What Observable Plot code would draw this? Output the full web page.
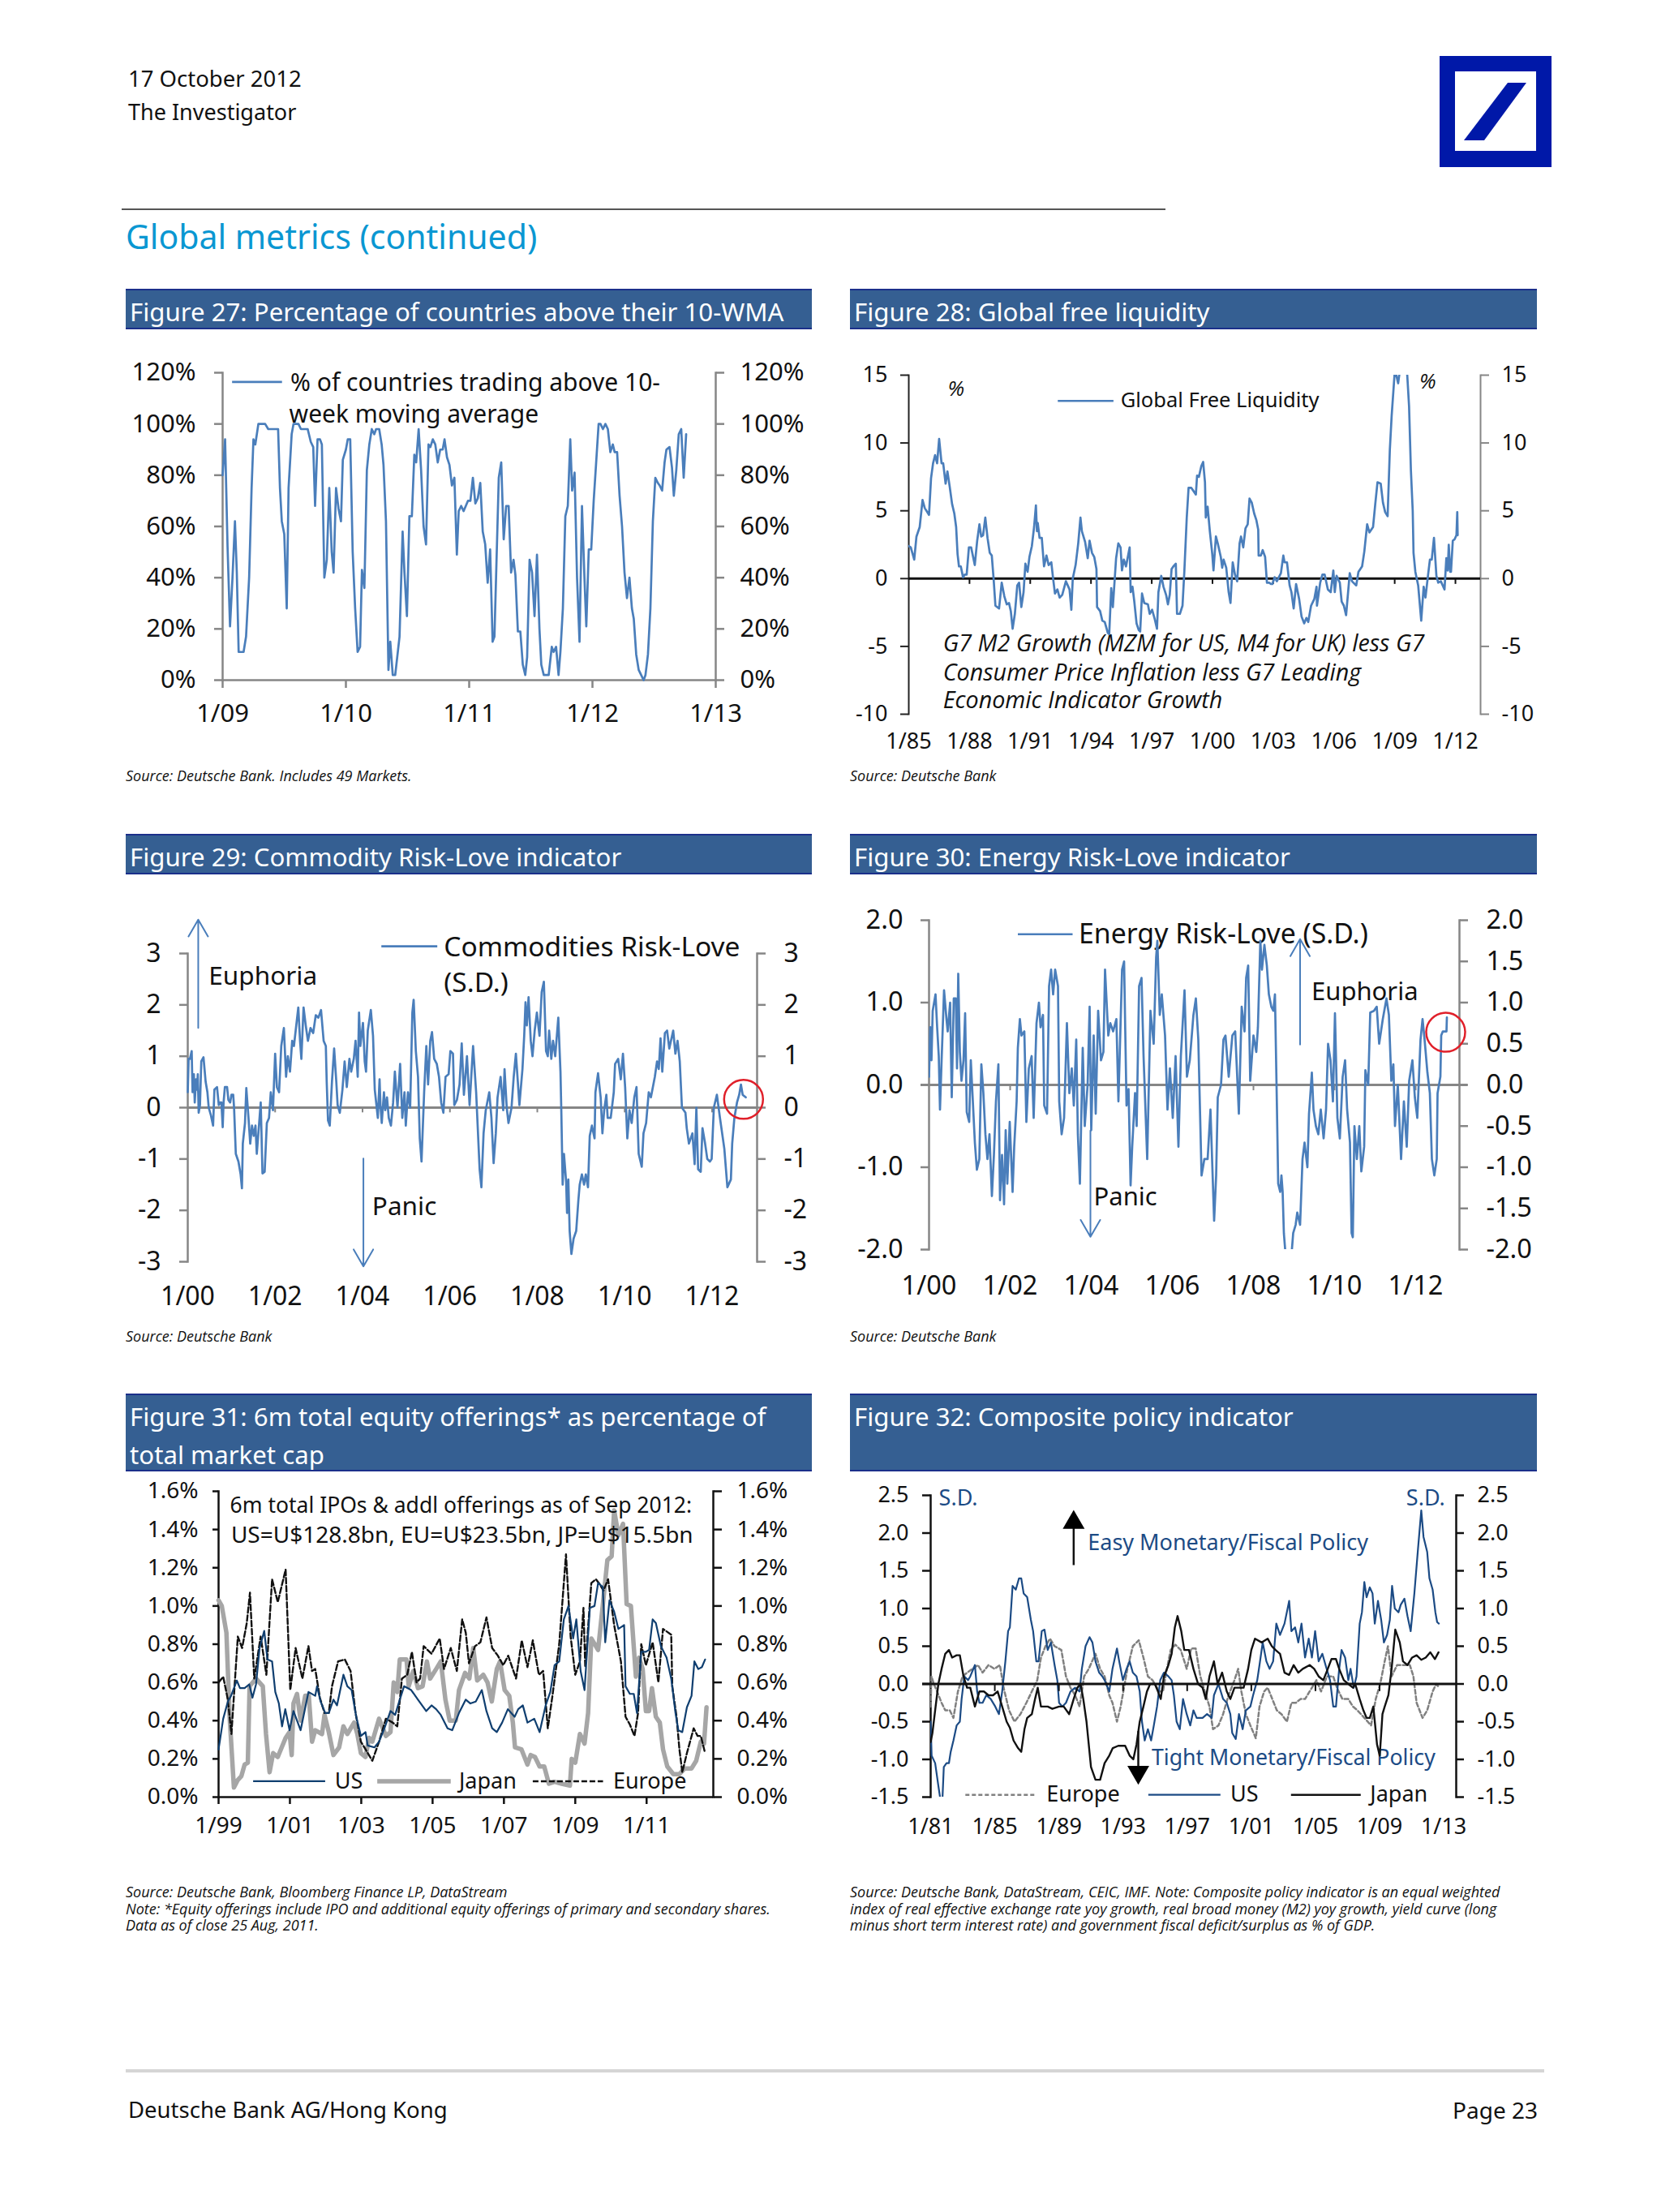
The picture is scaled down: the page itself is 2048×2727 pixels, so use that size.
<!DOCTYPE html>
<html><head><meta charset="utf-8">
<script src="https://cdn.jsdelivr.net/npm/d3@7"></script>
<script src="https://cdn.jsdelivr.net/npm/@observablehq/plot@0.6"></script>
<style>
html,body{margin:0;padding:0;background:#fff}
#page{position:relative;width:2048px;height:2727px;overflow:hidden;font-family:"Noto Sans",sans-serif;color:#111}
.t{position:absolute;white-space:nowrap}
.hd{position:absolute;box-sizing:border-box;background:#355f92;border-top:2px solid #1b2f8a;border-bottom:2px solid #1b2f8a;color:#fff;font-size:31.2px;line-height:47px;padding:3px 0 0 5px;white-space:pre}
.src{position:absolute;font-family:"Open Sans",sans-serif;font-style:italic;font-size:18px;line-height:20.5px;white-space:pre;color:#111}
svg{overflow:visible}
.pl{position:absolute}
</style></head><body><div id="page"></div>
<script>
// ---- Figure 27: offset in years from 1/09, percent
const fig27Base=2009;
const fig27Points=[[0,80],[.02,94],[.04,52],[.06,21],[.08,40],[.10,62],[.115,42],[.13,11],[.17,11],[.19,17],[.215,40],[.235,75],[.25,94],[.265,92],[.29,100],[.345,100],[.37,98],[.45,98],[.465,75],[.48,62],[.50,57],[.52,28],[.535,75],[.56,96],[.575,100],[.615,100],[.635,98],[.69,98],[.715,93],[.735,91],[.75,68],[.77,94],[.79,94],[.805,92],[.825,40],[.845,47],[.865,75],[.885,50],[.90,42],[.92,75],[.94,67],[.96,62],[.975,86],[1.0,90],[1.015,94],[1.035,94],[1.055,50],[1.075,28],[1.095,11],[1.115,13],[1.13,43],[1.15,36],[1.17,82],[1.19,92],[1.21,98],[1.23,96],[1.245,98],[1.27,98],[1.29,92],[1.305,84],[1.325,62],[1.345,4],[1.36,15],[1.38,2],[1.40,2],[1.435,17],[1.46,58],[1.475,42],[1.495,25],[1.515,64],[1.535,64],[1.555,88],[1.57,85],[1.59,98],[1.61,82],[1.63,60],[1.65,53],[1.67,92],[1.685,91],[1.705,94],[1.725,92],[1.745,85],[1.765,90],[1.785,90],[1.80,94],[1.82,87],[1.84,84],[1.86,76],[1.88,79],[1.90,49],[1.915,66],[1.935,68],[1.955,66],[1.99,70],[2.01,70],[2.03,79],[2.05,69],[2.07,71],[2.09,77],[2.11,58],[2.13,53],[2.15,38],[2.17,51],[2.19,15],[2.205,17],[2.24,79],[2.26,85],[2.28,55],[2.30,68],[2.32,68],[2.34,42],[2.36,47],[2.375,41],[2.395,19],[2.415,19],[2.435,6],[2.455,2],[2.47,9],[2.49,47],[2.51,42],[2.53,25],[2.55,49],[2.57,20],[2.585,6],[2.605,2],[2.645,2],[2.67,13],[2.685,11],[2.705,13],[2.725,2],[2.74,11],[2.76,28],[2.78,64],[2.80,68],[2.82,94],[2.835,74],[2.855,81],[2.875,40],[2.895,15],[2.915,68],[2.935,40],[2.95,21],[2.97,51],[2.99,51],[3.01,70],[3.03,85],[3.05,100],[3.065,100],[3.085,98],[3.105,100],[3.125,98],[3.145,89],[3.165,92],[3.18,89],[3.20,89],[3.22,72],[3.24,60],[3.26,42],[3.28,32],[3.30,40],[3.32,28],[3.335,24],[3.355,10],[3.375,4],[3.395,2],[3.415,0],[3.43,2],[3.45,10],[3.47,28],[3.49,62],[3.51,79],[3.53,77],[3.545,76],[3.565,74],[3.585,85],[3.60,90],[3.625,91],[3.645,83],[3.66,72],[3.68,82],[3.70,96],[3.72,98],[3.74,79],[3.76,96]];
// ---- Figure 28: offset in years from 1/85, percent
const fig28Base=1985;
const fig28Points=[[0,2.4],[.1,2.3],[.27,1.4],[.38,3.1],[.54,3.8],[.68,5.8],[.79,5.2],[1.0,4.7],[1.1,7.4],[1.2,8.5],[1.3,9.1],[1.4,8.5],[1.5,10.3],[1.62,8.5],[1.7,8.5],[1.82,7],[1.91,7.9],[2.02,6.8],[2.14,5.5],[2.25,4.8],[2.34,3.8],[2.41,1.8],[2.48,.9],[2.57,.9],[2.68,.1],[2.77,.3],[2.86,.3],[2.97,2.3],[3.08,2.3],[3.26,1.0],[3.38,2.8],[3.49,4.0],[3.58,3.1],[3.67,3.2],[3.78,4.5],[3.89,3.0],[4.0,1.9],[4.1,1.7],[4.19,0],[4.28,-2],[4.46,-2.2],[4.59,-.3],[4.72,-1.3],[4.84,-1.9],[4.95,-1.8],[5.04,-2.4],[5.13,-3.7],[5.24,-2.6],[5.36,-.5],[5.45,-.3],[5.56,-2.1],[5.67,-1],[5.76,1.1],[5.87,.5],[5.96,1.6],[6.08,2.4],[6.19,3.8],[6.28,5.4],[6.33,3.5],[6.37,4.1],[6.46,3],[6.57,3.0],[6.68,.9],[6.8,1.7],[6.91,1],[7.04,1.2],[7.13,0],[7.22,-1.1],[7.34,-.8],[7.45,-1.4],[7.58,-1.2],[7.76,-.2],[7.94,-.8],[8.03,-2.3],[8.1,0],[8.24,1],[8.37,2.6],[8.48,4.5],[8.55,3.5],[8.71,2.7],[8.84,1.5],[8.93,2.8],[9.05,1.9],[9.16,1.6],[9.27,.7],[9.3,-2.1],[9.45,-2.4],[9.56,-3.1],[9.68,-3.2],[9.83,-4.0],[9.9,-4.1],[10.0,-.7],[10.08,-2.1],[10.24,1.5],[10.35,2.6],[10.46,2.3],[10.53,.6],[10.62,1.4],[10.73,.9],[10.91,2.3],[10.96,-1.0],[11.05,-.6],[11.14,-1.7],[11.25,-3.3],[11.36,-3.8],[11.43,-3.9],[11.52,-1.1],[11.63,-1.8],[11.81,-1.9],[11.9,-2.6],[12.02,-2.3],[12.15,-3],[12.26,-3.7],[12.33,-1],[12.47,.2],[12.58,-.6],[12.71,-1.2],[12.8,-1.9],[12.89,-1.2],[12.98,.7],[13.07,.9],[13.19,1.1],[13.25,-2.6],[13.39,-2.6],[13.52,-2.0],[13.61,.5],[13.73,4.5],[13.82,6.7],[13.95,6.7],[14.18,6.2],[14.24,7.6],[14.33,7.5],[14.45,8.3],[14.54,8.6],[14.63,7.1],[14.67,4.5],[14.76,5.3],[14.87,3.5],[14.99,1.8],[15.05,.6],[15.17,3.1],[15.26,2.6],[15.41,1.6],[15.48,.8],[15.55,1.4],[15.68,.8],[15.8,-1],[15.89,-1.8],[16.0,1.2],[16.11,.3],[16.22,-.2],[16.34,2.6],[16.41,3.1],[16.52,2.3],[16.63,3.7],[16.74,4],[16.83,5.9],[16.94,5.6],[17.06,4.8],[17.17,4.3],[17.26,3.6],[17.28,1.7],[17.39,1.7],[17.48,2.1],[17.6,1.6],[17.69,-.3],[17.8,-.3],[17.89,-.4],[17.96,-.4],[18.07,.1],[18.18,-.2],[18.38,.4],[18.5,1.7],[18.56,1.2],[18.68,1.2],[18.81,-.5],[18.9,-1],[19.01,-2.2],[19.13,-.4],[19.28,-1.5],[19.4,-2.8],[19.53,-3.3],[19.64,-2.9],[19.73,-3.2],[19.87,-2],[20.03,-1.5],[20.14,-.6],[20.16,-2],[20.32,-.3],[20.43,.3],[20.54,.3],[20.7,-.8],[20.84,-1],[20.97,.6],[21.04,-1],[21.13,.2],[21.29,-.3],[21.38,-1.7],[21.49,-2],[21.6,-2.7],[21.78,.4],[21.89,-.2],[22.1,-.5],[22.21,.5],[22.39,.9],[22.5,2],[22.64,4],[22.75,3.4],[22.93,3.8],[23.04,5.5],[23.15,7.1],[23.31,7],[23.42,5.6],[23.53,4.9],[23.65,4.6],[23.76,9.5],[23.85,12],[23.99,15],[24.05,15.2],[24.17,14.4],[24.26,15.4],[24.53,16],[24.62,15],[24.71,12.7],[24.8,8],[24.89,5],[24.93,1.9],[25.02,.5],[25.16,-.5],[25.31,-3.1],[25.43,-.6],[25.52,-1.4],[25.65,.3],[25.74,1.4],[25.83,1.4],[25.94,3.0],[26.06,.2],[26.15,-.3],[26.28,-.2],[26.46,-.8],[26.55,1.5],[26.62,.6],[26.67,2.5],[26.74,.5],[26.78,.5],[26.87,2.8],[26.96,2.9],[27.05,3.2],[27.09,4.9],[27.11,3.2]];
// ---- Figure 29: offset in years from 1/00, S.D.
const fig29Base=2000;
const fig29Points=[[0,.3],[.02,.95],[.05,.95],[.09,1.1],[.11,.3],[.14,.65],[.16,.1],[.19,.55],[.21,.35],[.23,.65],[.25,-.1],[.28,.05],[.31,.9],[.36,.98],[.41,.5],[.45,.3],[.48,0],[.53,-.15],[.58,-.35],[.61,.35],[.67,.4],[.71,.05],[.74,.1],[.77,.1],[.8,-.38],[.82,.1],[.85,.4],[.9,.4],[.93,.15],[.97,.1],[1.0,.25],[1.04,.25],[1.06,0],[1.1,-.9],[1.16,-1.05],[1.21,-1.3],[1.24,-1.57],[1.26,-.7],[1.31,-.3],[1.34,.38],[1.39,-.2],[1.43,-.7],[1.47,-.35],[1.51,-.55],[1.55,-.35],[1.58,-.9],[1.63,-.35],[1.67,.1],[1.71,-1.28],[1.76,-1.25],[1.81,-.3],[1.86,-.2],[1.9,.3],[1.95,-.05],[2.0,1.05],[2.04,.4],[2.09,.3],[2.14,1.2],[2.2,1.55],[2.25,.6],[2.29,1.0],[2.34,.7],[2.39,1.3],[2.43,1.2],[2.47,1.5],[2.53,1.95],[2.57,1.3],[2.6,.95],[2.65,1.95],[2.7,1.6],[2.75,1.3],[2.81,1.55],[2.87,1.45],[2.93,1.8],[2.99,1.75],[3.05,1.9],[3.11,1.3],[3.16,1.2],[3.18,.5],[3.21,-.25],[3.25,-.35],[3.3,.5],[3.35,1.15],[3.4,.5],[3.43,.05],[3.48,-.1],[3.54,.35],[3.59,.9],[3.64,.4],[3.7,.95],[3.74,.7],[3.8,.95],[3.84,1.3],[3.89,.6],[3.92,1.85],[3.95,1.2],[4.01,1.65],[4.05,.9],[4.08,.7],[4.12,1.5],[4.19,1.9],[4.24,1.4],[4.28,.35],[4.35,-.2],[4.39,.55],[4.41,.05],[4.44,-.3],[4.49,.3],[4.52,-.05],[4.56,.2],[4.6,-.2],[4.65,-.35],[4.7,.1],[4.74,.7],[4.8,0],[4.86,.85],[4.91,-.2],[4.96,.3],[4.99,-.35],[5.04,.3],[5.09,0],[5.14,1.85],[5.17,2.1],[5.22,1.1],[5.27,.6],[5.31,-.6],[5.35,-1.05],[5.41,.3],[5.46,1.2],[5.5,.45],[5.55,1.3],[5.59,1.47],[5.64,.95],[5.7,.85],[5.75,.6],[5.8,.1],[5.85,-.1],[5.9,.6],[5.97,.65],[6.01,1.1],[6.07,1.05],[6.1,.05],[6.16,.15],[6.22,.45],[6.27,1.25],[6.32,.25],[6.39,1.0],[6.45,.05],[6.53,1.2],[6.6,.3],[6.68,-1.2],[6.72,-1.55],[6.77,-.5],[6.82,-.05],[6.9,.3],[6.95,-.2],[7.0,-1.08],[7.05,-.5],[7.09,.2],[7.16,.6],[7.22,-.05],[7.25,.75],[7.3,0],[7.34,-.3],[7.41,0],[7.46,.6],[7.51,1.05],[7.59,.05],[7.66,.75],[7.7,1.4],[7.73,2.05],[7.76,1.6],[7.8,2.15],[7.85,1.3],[7.89,1.0],[7.94,1.5],[7.99,1.85],[8.05,1.4],[8.1,2.25],[8.15,2.45],[8.2,1.1],[8.24,1.0],[8.27,1.5],[8.32,.95],[8.36,1.3],[8.41,1.0],[8.48,1.75],[8.53,.7],[8.55,-.1],[8.58,-1.5],[8.61,-.9],[8.66,-1.45],[8.68,-2.05],[8.71,-1.4],[8.74,-2.4],[8.78,-2.85],[8.83,-2.55],[8.89,-2.4],[8.94,-1.8],[8.97,-1.5],[9.02,-1.3],[9.07,-1.5],[9.11,-1.3],[9.16,-1.55],[9.2,-.55],[9.25,-.35],[9.31,-.6],[9.33,.3],[9.39,.67],[9.45,.2],[9.49,-.5],[9.53,-.05],[9.58,.25],[9.61,-.2],[9.68,-.2],[9.75,.3],[9.78,.85],[9.85,.95],[9.91,.55],[9.96,1.05],[10.01,.4],[10.06,-.6],[10.11,-.05],[10.16,-.3],[10.22,.2],[10.27,.4],[10.32,-.9],[10.39,-1.15],[10.43,-.5],[10.49,-.3],[10.55,.3],[10.6,.2],[10.69,.6],[10.74,.9],[10.78,.75],[10.82,1.35],[10.86,.7],[10.92,1.45],[10.97,1.5],[11.02,1.15],[11.11,1.5],[11.16,1.05],[11.21,1.3],[11.26,.9],[11.31,0],[11.39,-.1],[11.42,-.4],[11.47,-.7],[11.55,-.5],[11.6,-1.1],[11.64,0],[11.68,-1.2],[11.74,-1.25],[11.78,-.4],[11.84,-.7],[11.89,-1],[11.95,-1.05],[11.99,-1.0],[12.04,0],[12.11,.25],[12.18,-.2],[12.28,-.8],[12.35,-1.55],[12.43,-1.4],[12.46,-.7],[12.51,-.2],[12.57,.1],[12.62,.25],[12.66,.45],[12.7,.25],[12.77,.2]];
// ---- Figure 30: offset in years from 1/00, S.D.
const fig30Base=2000;
const fig30Points=[[0,.1],[.03,.7],[.06,.3],[.09,.9],[.16,1.1],[.2,.7],[.24,.35],[.27,-.3],[.31,.3],[.37,1.15],[.43,.8],[.46,.65],[.52,1.0],[.56,-.15],[.61,1.05],[.66,1.05],[.69,.2],[.72,1.35],[.76,.4],[.8,.05],[.85,.3],[.89,.87],[.93,-.33],[.99,-.45],[1.03,.3],[1.08,-.2],[1.13,-.7],[1.18,-1.03],[1.24,-.9],[1.29,.25],[1.34,-.1],[1.39,-.6],[1.44,-.9],[1.49,-.6],[1.55,-1.35],[1.6,-.85],[1.65,-.2],[1.71,.25],[1.75,-1.4],[1.8,-.85],[1.85,-1.45],[1.89,-.55],[1.93,-1.2],[1.99,-.45],[2.06,-1.3],[2.1,-.75],[2.16,-.2],[2.19,.45],[2.24,.8],[2.28,.6],[2.35,.65],[2.4,-.45],[2.46,.2],[2.53,.35],[2.58,-.4],[2.65,.75],[2.71,1.0],[2.75,.7],[2.81,.85],[2.84,-.25],[2.91,-.35],[2.96,1.2],[3.01,1.4],[3.06,1.1],[3.11,1.4],[3.18,1.2],[3.21,-.2],[3.27,-.6],[3.33,-.4],[3.4,.75],[3.46,-.1],[3.52,.2],[3.57,-.25],[3.63,.55],[3.67,-.6],[3.72,-1.2],[3.79,.45],[3.84,-.5],[3.91,0],[3.96,.95],[4.0,-.55],[4.06,.6],[4.11,-.35],[4.17,.9],[4.24,.3],[4.3,.4],[4.34,1.4],[4.42,.6],[4.47,.75],[4.54,.65],[4.62,.8],[4.67,-.2],[4.76,1.4],[4.81,1.5],[4.87,-.25],[4.92,-.05],[4.97,-1.22],[5.01,-.75],[5.08,-.1],[5.12,-.5],[5.18,1.2],[5.24,1.3],[5.29,.35],[5.38,-.9],[5.46,.9],[5.54,.5],[5.6,1.55],[5.63,1.75],[5.69,.85],[5.74,1.1],[5.82,.6],[5.88,-.3],[5.94,.2],[6.01,-.4],[6.08,.35],[6.15,-.75],[6.21,.35],[6.3,1.15],[6.36,.1],[6.43,.3],[6.52,.85],[6.58,1.05],[6.64,.55],[6.72,-1.1],[6.79,-.9],[6.87,-.9],[6.94,-.3],[7.03,-1.65],[7.08,-1.1],[7.12,-.15],[7.2,0],[7.26,.55],[7.31,.6],[7.39,.1],[7.48,.6],[7.55,.65],[7.64,-.35],[7.71,.95],[7.78,.65],[7.82,1.3],[7.87,1.45],[7.92,.05],[8.0,.6],[8.07,.4],[8.11,.7],[8.17,1.75],[8.21,1.4],[8.27,1.7],[8.33,1.45],[8.38,1.1],[8.44,.95],[8.49,.9],[8.53,1.1],[8.58,-.3],[8.61,-1.2],[8.66,-1.3],[8.69,-1.1],[8.72,-1.3],[8.75,-1.8],[8.79,-2.05],[8.94,-2.05],[8.98,-1.8],[9.04,-1.7],[9.08,-1.55],[9.15,-1.7],[9.21,-.9],[9.26,-.7],[9.33,-1.0],[9.37,-.35],[9.44,.15],[9.48,-.3],[9.54,-.5],[9.6,-.6],[9.66,-.3],[9.73,-.65],[9.79,-.3],[9.84,.5],[9.9,.3],[9.96,-.2],[10.01,.87],[10.07,-.4],[10.13,-.65],[10.2,.1],[10.26,.3],[10.31,-.3],[10.38,-.7],[10.42,-1.8],[10.45,-1.85],[10.49,-.5],[10.55,-.9],[10.61,-.5],[10.66,-1.05],[10.73,-.75],[10.76,.18],[10.83,0],[10.88,.88],[10.97,.9],[11.04,.95],[11.1,.5],[11.19,.8],[11.28,1.05],[11.34,.85],[11.4,.05],[11.45,.25],[11.49,-.5],[11.56,0],[11.64,-.9],[11.71,-.2],[11.78,-.75],[11.84,.05],[11.92,.3],[11.98,-.15],[12.04,-.4],[12.12,.55],[12.17,.8],[12.22,.55],[12.29,.15],[12.35,-.1],[12.4,-.9],[12.46,-1.1],[12.52,-.9],[12.54,-.1],[12.61,.1],[12.63,.6],[12.67,.65],[12.76,.65],[12.77,.82]];
// ---- Figure 31: offset in years from 1/99, percent
const fig31Base=1999;
const fig31US=[[0,.25],[.13,.41],[.26,.5],[.35,.53],[.51,.61],[.6,.57],[.73,.57],[.86,.59],[.95,.52],[1.05,.59],[1.15,.78],[1.28,.87],[1.37,.72],[1.5,.71],[1.59,.55],[1.69,.49],[1.78,.37],[1.87,.46],[1.99,.35],[2.1,.45],[2.3,.35],[2.52,.55],[2.71,.53],[2.76,.58],[2.86,.5],[2.99,.44],[3.09,.44],[3.22,.51],[3.32,.48],[3.5,.64],[3.61,.58],[3.73,.56],[3.86,.42],[3.99,.32],[4.12,.34],[4.18,.27],[4.37,.26],[4.5,.29],[4.65,.36],[4.82,.45],[4.95,.43],[5.08,.51],[5.2,.58],[5.4,.56],[5.59,.51],[5.82,.45],[5.97,.48],[6.1,.46],[6.23,.43],[6.42,.36],[6.55,.35],[6.74,.44],[6.93,.51],[7.06,.49],[7.21,.5],[7.38,.56],[7.51,.45],[7.67,.36],[7.8,.34],[7.95,.39],[8.11,.46],[8.3,.42],[8.4,.46],[8.53,.48],[8.66,.39],[8.85,.41],[9.0,.34],[9.17,.48],[9.3,.55],[9.42,.69],[9.55,.71],[9.68,.93],[9.81,1.0],[9.94,.83],[10.03,.93],[10.15,.66],[10.26,.56],[10.41,.99],[10.54,1.0],[10.64,1.12],[10.77,1.1],[10.84,.81],[10.96,1.03],[11.09,.97],[11.21,.88],[11.37,.9],[11.41,.58],[11.53,.54],[11.64,.54],[11.73,.44],[11.85,.76],[11.98,.76],[12.07,.77],[12.17,.93],[12.26,.91],[12.4,.79],[12.56,.73],[12.69,.62],[12.81,.44],[12.89,.35],[13.0,.34],[13.13,.47],[13.26,.53],[13.34,.71],[13.45,.67],[13.55,.68],[13.64,.72]];
const fig31Japan=[[0,1.03],[.09,1.0],[.22,.86],[.31,.42],[.43,.05],[.54,.09],[.64,.11],[.73,.17],[.82,.18],[.87,.58],[1.05,.62],[1.24,.58],[1.33,.33],[1.43,.13],[1.53,.23],[1.66,.21],[1.88,.31],[1.99,.34],[2.05,.22],[2.1,.49],[2.2,.54],[2.3,.4],[2.43,.53],[2.53,.53],[2.62,.29],[2.71,.35],[2.9,.33],[2.97,.43],[3.09,.34],[3.22,.22],[3.38,.26],[3.5,.37],[3.61,.33],[3.8,.39],[3.89,.33],[3.99,.23],[4.12,.21],[4.22,.31],[4.31,.29],[4.5,.41],[4.69,.32],[4.82,.34],[4.91,.6],[5.01,.55],[5.08,.72],[5.27,.72],[5.33,.58],[5.46,.66],[5.59,.57],[5.72,.58],[5.84,.71],[5.93,.62],[6.1,.67],[6.23,.71],[6.36,.51],[6.48,.4],[6.65,.4],[6.74,.56],[6.91,.65],[7.03,.62],[7.14,.78],[7.25,.61],[7.42,.64],[7.54,.6],[7.66,.5],[7.8,.67],[7.89,.71],[8.02,.56],[8.15,.53],[8.25,.39],[8.31,.26],[8.49,.25],[8.66,.17],[8.75,.22],[8.87,.21],[9.0,.16],[9.13,.16],[9.26,.07],[9.42,.08],[9.62,.07],[9.85,.06],[9.9,.2],[10.0,.18],[10.13,.33],[10.26,.28],[10.36,.44],[10.45,.83],[10.64,.77],[10.77,1.0],[10.9,1.24],[11.02,1.26],[11.09,1.5],[11.21,1.37],[11.34,1.43],[11.44,1.01],[11.56,1.0],[11.7,.63],[11.79,.73],[11.89,.67],[11.98,.45],[12.07,.45],[12.15,.57],[12.26,.42],[12.37,.39],[12.46,.25],[12.58,.16],[12.75,.12],[12.92,.12],[13.07,.15],[13.26,.15],[13.39,.19],[13.52,.29],[13.61,.28],[13.68,.47]];
const fig31Europe=[[0,.6],[.13,.63],[.26,.51],[.36,.33],[.54,.84],[.66,.78],[.79,.91],[.88,1.07],[1.0,.62],[1.18,.84],[1.34,.64],[1.5,1.14],[1.66,1.02],[1.88,1.19],[2.01,.56],[2.16,.78],[2.35,.62],[2.52,.79],[2.62,.66],[2.71,.67],[2.84,.52],[2.97,.44],[3.09,.44],[3.18,.58],[3.35,.71],[3.54,.72],[3.7,.66],[3.84,.44],[3.99,.29],[4.12,.25],[4.31,.19],[4.5,.29],[4.69,.41],[4.88,.39],[5.01,.37],[5.14,.62],[5.29,.64],[5.42,.76],[5.55,.6],[5.65,.62],[5.75,.79],[5.97,.75],[6.2,.83],[6.32,.67],[6.51,.78],[6.68,.66],[6.83,.93],[6.93,.86],[7.02,.7],[7.19,.79],[7.34,.81],[7.51,.94],[7.67,.78],[7.83,.74],[7.98,.69],[8.12,.74],[8.34,.62],[8.5,.82],[8.66,.68],[8.81,.82],[8.98,.64],[9.1,.66],[9.23,.36],[9.36,.53],[9.55,.8],[9.74,1.27],[9.87,.84],[10.0,.64],[10.13,.71],[10.23,.99],[10.28,.68],[10.45,1.12],[10.58,1.14],[10.7,1.11],[10.79,1.08],[10.92,1.14],[11.09,.9],[11.28,.71],[11.41,.42],[11.53,.38],[11.66,.32],[11.76,.44],[11.85,.8],[11.98,.69],[12.17,.81],[12.33,.6],[12.46,.88],[12.69,.85],[12.72,.58],[12.84,.42],[12.92,.25],[13.0,.13],[13.13,.23],[13.32,.36],[13.43,.32],[13.52,.32],[13.64,.23]];
// ---- Figure 32: offset in years from 1/81, S.D.
const fig32Base=1981;
const fig32US=[[0,-.5],[.06,-.95],[.28,-1.05],[.48,-1.35],[.62,-1.55],[.74,-1.5],[.82,-1.1],[.99,-1.05],[1.14,-1.05],[1.25,-.9],[1.42,-.75],[1.62,-.55],[1.82,-.5],[1.93,-.2],[2.1,.1],[2.33,.05],[2.47,.1],[2.76,.25],[2.9,-.1],[3.04,-.25],[3.24,-.25],[3.47,-.15],[3.75,-.2],[4.03,-.3],[4.26,-.4],[4.46,-.1],[4.66,.3],[4.83,.7],[4.94,.75],[5.11,1.3],[5.31,1.25],[5.51,1.4],[5.65,1.4],[5.8,1.2],[6.02,1.15],[6.25,.85],[6.39,.7],[6.59,.3],[6.73,.3],[6.93,.7],[7.1,.72],[7.3,.45],[7.5,.55],[7.73,.25],[7.9,.05],[8.01,-.25],[8.21,-.3],[8.44,-.25],[8.72,-.1],[9.01,-.05],[9.29,-.1],[9.43,.2],[9.66,.5],[9.91,.62],[10.09,.55],[10.28,.3],[10.51,.15],[10.71,.1],[10.85,.05],[11.14,-.1],[11.34,.2],[11.62,.47],[11.76,.3],[11.99,.05],[12.22,.2],[12.41,.3],[12.61,.15],[12.84,.1],[13.04,-.1],[13.18,-.5],[13.35,-.75],[13.55,-.6],[13.75,-.75],[13.92,-.55],[14.12,-.3],[14.32,.05],[14.55,.15],[14.83,.1],[15.03,.05],[15.17,-.15],[15.34,-.5],[15.54,-.6],[15.74,-.2],[15.97,-.4],[16.19,-.55],[16.39,-.35],[16.59,-.45],[16.96,-.45],[17.24,-.4],[17.53,-.45],[17.67,-.15],[17.95,0],[18.24,-.2],[18.47,-.25],[18.69,-.4],[18.81,-.65],[19.03,-.73],[19.23,-.4],[19.46,-.6],[19.66,-.35],[19.94,-.3],[20.11,-.15],[20.37,.05],[20.51,.25],[20.71,.55],[20.94,.3],[21.14,.2],[21.36,.3],[21.56,.8],[21.79,.65],[22.07,.8],[22.36,1.1],[22.5,.7],[22.73,.75],[22.93,.55],[23.13,.8],[23.35,.35],[23.58,.6],[23.78,.35],[23.98,.7],[24.2,.3],[24.43,.4],[24.63,.25],[24.91,.05],[25.11,-.3],[25.28,-.3],[25.48,.2],[25.63,.45],[25.85,.35],[26.05,.05],[26.19,.2],[26.39,-.05],[26.56,.1],[26.76,.8],[26.9,.95],[27.05,1.35],[27.19,1.15],[27.39,1.28],[27.56,1.2],[27.7,.8],[27.9,1.1],[28.1,.85],[28.27,.55],[28.47,.65],[28.64,.85],[28.78,1.3],[28.95,1.0],[29.18,.95],[29.32,1.05],[29.55,1.13],[29.74,.9],[29.94,.7],[30.17,1.2],[30.4,1.8],[30.6,2.3],[30.74,1.95],[30.97,1.75],[31.11,1.4],[31.31,1.25],[31.48,.95],[31.59,.82],[31.7,.8]];
const fig32Japan=[[0,-.77],[.11,-.65],[.28,-.35],[.48,0],[.68,.2],[.91,.4],[1.14,.45],[1.34,.35],[1.62,.38],[1.82,.38],[2.05,.1],[2.27,-.05],[2.47,-.05],[2.76,-.3],[3.04,-.1],[3.32,-.1],[3.61,-.15],[3.89,-.15],[4.18,-.1],[4.46,-.3],[4.74,-.5],[4.94,-.58],[5.17,-.75],[5.45,-.85],[5.65,-.9],[5.85,-.6],[6.02,-.45],[6.31,-.4],[6.51,-.2],[6.68,-.05],[6.88,-.3],[7.1,-.3],[7.3,-.3],[7.59,-.33],[8.01,-.3],[8.3,-.3],[8.64,-.4],[8.92,-.2],[9.15,-.05],[9.35,0],[9.52,-.2],[9.72,-.5],[10.0,-1.1],[10.28,-1.27],[10.57,-1.27],[10.85,-1.05],[11.14,-.95],[11.36,-.85],[11.7,-.82],[12.13,-.82],[12.41,-.95],[12.64,-1],[12.84,-.8],[13.04,-.5],[13.27,-.3],[13.49,-.1],[13.69,0],[13.98,0],[14.18,-.1],[14.35,-.2],[14.55,.1],[14.83,.25],[15.03,.4],[15.23,.75],[15.4,.9],[15.63,.7],[15.82,.45],[16.11,.45],[16.39,.2],[16.68,0],[16.96,-.05],[17.16,-.2],[17.39,.1],[17.67,.3],[17.9,0],[18.18,.15],[18.47,-.1],[18.69,-.2],[18.95,-.05],[19.23,-.05],[19.52,-.05],[19.8,.2],[20.0,.45],[20.23,.6],[20.65,.55],[21.02,.6],[21.28,.5],[21.51,.45],[21.79,.4],[22.07,.15],[22.36,.12],[22.64,.25],[22.93,.15],[23.21,.2],[23.64,.25],[23.92,.2],[24.2,.1],[24.49,.05],[24.77,.2],[25.0,.33],[25.28,.33],[25.48,.2],[25.77,.05],[26.05,0],[26.34,-.05],[26.48,0],[26.76,-.2],[26.99,-.35],[27.19,-.45],[27.39,-.45],[27.61,-.3],[27.84,-.8],[28.01,-.95],[28.18,-.4],[28.32,-.3],[28.55,-.15],[28.75,.2],[28.98,.72],[29.26,.55],[29.46,.3],[29.74,.25],[30.03,.35],[30.31,.38],[30.6,.32],[30.88,.35],[31.16,.42],[31.45,.33],[31.68,.42]];
const fig32Europe=[[0,-.3],[.05,.1],[.2,0],[.4,-.1],[.68,-.25],[.91,-.35],[1.19,-.35],[1.42,-.45],[1.7,-.1],[1.99,.1],[2.27,.15],[2.61,.2],[2.95,.25],[3.24,.15],[3.61,.25],[3.98,.2],[4.32,.25],[4.55,-.05],[4.89,-.35],[5.23,-.5],[5.6,-.4],[5.97,-.25],[6.31,-.1],[6.65,.05],[6.88,.35],[7.16,.5],[7.44,.6],[7.73,.5],[8.15,.45],[8.44,.1],[8.72,-.05],[9.01,-.15],[9.29,-.3],[9.57,.1],[9.86,.2],[10.28,.4],[10.57,.2],[10.85,.1],[11.14,-.15],[11.34,-.25],[11.62,-.5],[11.85,-.3],[12.27,.2],[12.61,.5],[12.98,.58],[13.27,.35],[13.55,.1],[13.84,.05],[14.26,-.1],[14.49,-.1],[14.69,.15],[14.97,.45],[15.26,.52],[15.6,.45],[15.97,.2],[16.25,.47],[16.53,.47],[16.82,.1],[17.1,-.1],[17.39,-.3],[17.61,-.6],[17.95,-.55],[18.24,-.4],[18.58,-.15],[18.95,.05],[19.18,.2],[19.38,-.1],[19.66,-.4],[19.94,-.55],[20.28,-.72],[20.51,-.3],[20.8,-.1],[21.02,-.05],[21.31,-.2],[21.59,-.35],[21.88,-.4],[22.22,-.5],[22.5,-.25],[22.78,-.25],[23.07,-.2],[23.35,-.2],[23.78,-.05],[24.06,.05],[24.35,-.1],[24.72,.1],[25.11,.1],[25.34,-.05],[25.68,-.2],[26.05,-.2],[26.34,-.3],[26.62,-.35],[27.05,-.45],[27.47,-.55],[27.76,-.2],[28.04,0],[28.32,.3],[28.52,.5],[28.75,.1],[29.09,.25],[29.46,.25],[29.89,.25],[30.11,.1],[30.31,-.25],[30.68,-.45],[30.97,-.35],[31.31,-.1],[31.53,0],[31.73,-.05]];

// ---- tick values
const fig27XTicks=[2009,2010,2011,2012,2013], fig27YTicks=[0,20,40,60,80,100,120];
const fig28XTicks=[1985,1988,1991,1994,1997,2000,2003,2006,2009,2012], fig28YTicks=[-10,-5,0,5,10,15];
const fig29XTicks=[2000,2002,2004,2006,2008,2010,2012], fig29YTicks=[-3,-2,-1,0,1,2,3];
const fig30XTicks=[2000,2002,2004,2006,2008,2010,2012], fig30YTicksL=[-2,-1,0,1,2], fig30YTicksR=[-2,-1.5,-1,-.5,0,.5,1,1.5,2];
const fig31XTicks=[1999,2001,2003,2005,2007,2009,2011], fig31YTicks=[0,.2,.4,.6,.8,1,1.2,1.4,1.6];
const fig32XTicks=[1981,1985,1989,1993,1997,2001,2005,2009,2013], fig32YTicks=[-1.5,-1,-.5,0,.5,1,1.5,2,2.5];

// ---- text
const headerTexts=["17 October 2012","The Investigator"];
const sectionTitle="Global metrics (continued)";
const footerLeft="Deutsche Bank AG/Hong Kong", footerRight="Page 23";
const titles=["Figure 27: Percentage of countries above their 10-WMA","Figure 28: Global free liquidity","Figure 29: Commodity Risk-Love indicator","Figure 30: Energy Risk-Love indicator","Figure 31: 6m total equity offerings* as percentage of\ntotal market cap","Figure 32: Composite policy indicator"];
const sources=["Source: Deutsche Bank. Includes 49 Markets.","Source: Deutsche Bank","Source: Deutsche Bank","Source: Deutsche Bank","Source: Deutsche Bank, Bloomberg Finance LP, DataStream\nNote: *Equity offerings include IPO and additional equity offerings of primary and secondary shares.\nData as of close 25 Aug, 2011.","Source: Deutsche Bank, DataStream, CEIC, IMF. Note: Composite policy indicator is an equal weighted\nindex of real effective exchange rate yoy growth, real broad money (M2) yoy growth, yield curve (long\nminus short term interest rate) and government fiscal deficit/surplus as % of GDP."];

const FONT='"Noto Sans",sans-serif', ITALIC='"Open Sans",sans-serif', BLUE="#4a7ebb", GREY="#868686", NAVY="#1c4b85";
const page=document.getElementById("page");
function txt(s,left,top,size,color,extra={}){const d=document.createElement("div");d.className="t";d.textContent=s;Object.assign(d.style,{left:left+"px",top:top+"px",fontSize:size+"px",color,lineHeight:"1"},extra);page.appendChild(d);return d;}
const M={l:100,r:100,t:40,b:80};
function place(fr,xDom,yDom,marks){
  const p=Plot.plot({width:fr.r-fr.l+M.l+M.r,height:fr.b-fr.t+M.t+M.b,marginLeft:M.l,marginRight:M.r,marginTop:M.t,marginBottom:M.b,
    x:{domain:xDom,type:"linear"},y:{domain:yDom,type:"linear"},style:{fontFamily:FONT,overflow:"visible",background:"transparent",color:"#111"},marks});
  const w=document.createElement("div");w.className="pl";w.style.left=(fr.l-M.l)+"px";w.style.top=(fr.t-M.t)+"px";w.appendChild(p);page.appendChild(w);
}
const yr2=y=>"1/"+String(y%100).padStart(2,"0");
function notes(rows,o){return Plot.text(rows,{x:"x",y:"y",text:"t",textAnchor:"start",lineAnchor:"middle",fontFamily:FONT,...o});}
function seg(rows,o){return Plot.ruleY(rows,{y:"y",x1:"x1",x2:"x2",...o});}
function ser(pts,base,o){return Plot.line(pts,{x:d=>base+d[0],y:d=>d[1],strokeLinejoin:"round",...o});}
function axes(xT,yL,yR,o){const {fs,fsx=fs,fmtY,colL=GREY,colR=GREY,sw=2.5,tL=10,tR=10,padL,padR,tX=10,padX,tickSizeX,dxX=0}=o;
  return [
    Plot.axisY(yL,{anchor:"left",tickSize:tL,tickPadding:padL,tickFormat:fmtY,stroke:colL,strokeWidth:sw,fontSize:fs,fill:"#111",label:null}),
    Plot.axisY(yR,{anchor:"right",tickSize:tR,tickPadding:padR,tickFormat:fmtY,stroke:colR,strokeWidth:sw,fontSize:fs,fill:"#111",label:null}),
    Plot.axisX(xT,{anchor:"bottom",tickSize:tickSizeX??tX,tickPadding:padX,tickFormat:yr2,stroke:colL,strokeWidth:sw,fontSize:fsx,fill:"#111",label:null,textDx:dxX}),
    Plot.frame({anchor:"left",stroke:colL,strokeWidth:sw}),
    Plot.frame({anchor:"right",stroke:colR,strokeWidth:sw}),
  ];
}

// ---- page furniture
txt(headerTexts[0],158,83,27.5,"#111");
txt(headerTexts[1],158,124,27,"#111");
const rule=document.createElement("div");Object.assign(rule.style,{position:"absolute",left:"150px",top:"257px",width:"1287px",height:"2px",background:"#555"});page.appendChild(rule);
txt(sectionTitle,155,271,41,"#0a97d2");
const logo=document.createElementNS("http://www.w3.org/2000/svg","svg");
logo.setAttribute("width",138);logo.setAttribute("height",137);logo.style.cssText="position:absolute;left:1775px;top:69px";
logo.innerHTML='<rect width="138" height="137" fill="#0018a8"/><rect x="19" y="19" width="100" height="98" fill="#fff"/><polygon points="84,33 107,33 55,104 30,104" fill="#0018a8"/>';
page.appendChild(logo);
const foot=document.createElement("div");Object.assign(foot.style,{position:"absolute",left:"155px",top:"2551px",width:"1749px",height:"4px",background:"#d5d5d5"});page.appendChild(foot);
txt(footerLeft,158,2587,27.5,"#111");
const pr=txt(footerRight,0,2587,28,"#111");pr.style.left="auto";pr.style.right=(2048-1896)+"px";

// ---- headers and sources
const hdBoxes=[[155,356,846,50],[1048,356,847,50],[155,1028,846,50],[1048,1028,847,50],[155,1718,846,96],[1048,1718,847,96]];
hdBoxes.forEach((b,i)=>{const d=document.createElement("div");d.className="hd";d.textContent=titles[i];Object.assign(d.style,{left:b[0]+"px",top:b[1]+"px",width:b[2]+"px",height:b[3]+"px"});page.appendChild(d);});
const srcPos=[[155,946],[1048,946],[155,1637],[1048,1637],[155,2322],[1048,2322]];
srcPos.forEach((p,i)=>{const d=document.createElement("div");d.className="src";d.textContent=sources[i];d.style.left=p[0]+"px";d.style.top=p[1]+"px";page.appendChild(d);});

// ---- Figure 27
place({l:274,r:882,t:459,b:838},[2009,2013],[0,120],[
  ...axes(fig27XTicks,fig27YTicks,fig27YTicks,{fs:31,fmtY:d=>d+"%",padL:23,padR:20,padX:19}),
  Plot.ruleY([0],{stroke:GREY,strokeWidth:2.5}),
  notes([{x:2009.55,y:116,t:"% of countries trading above 10-"},{x:2009.54,y:103.6,t:"week moving average"}],{fontSize:30,fill:"#111"}),
  seg([{y:116.4,x1:2009.08,x2:2009.485}],{stroke:BLUE,strokeWidth:2.7}),
  ser(fig27Points,fig27Base,{stroke:BLUE,strokeWidth:2.7}),
]);
// ---- Figure 28
place({l:1120,r:1825,t:462,b:880},[1985,2013.24],[-10,15],[
  ...axes(fig28XTicks,fig28YTicks,fig28YTicks,{fs:27,colL:"#222",fmtY:d=>String(d),padL:16,padR:16,padX:23,tickSizeX:0,sw:2}),
  Plot.ruleY([0],{stroke:"#111",strokeWidth:3}),
  Plot.ruleX(fig28XTicks.slice(1),{x:d=>d,y1:0,y2:-.42,stroke:"#111",strokeWidth:2}),
  notes([{x:1987.34,y:14,t:"%"},{x:2010.63,y:14.5,t:"%"}],{fontSize:26,fontFamily:ITALIC,fontStyle:"italic",textAnchor:"middle",fill:"#111"}),
  seg([{y:13.1,x1:1992.38,x2:1995.13}],{stroke:BLUE,strokeWidth:2.7}),
  notes([{x:1995.46,y:13.1,t:"Global Free Liquidity"}],{fontSize:25.5,fill:"#111"}),
  notes([{x:1986.69,y:-4.8,t:"G7 M2 Growth (MZM for US, M4 for UK) less G7"},{x:1986.69,y:-6.95,t:"Consumer Price Inflation less G7 Leading"},{x:1986.69,y:-9,t:"Economic Indicator Growth"}],{fontSize:28.7,fontFamily:ITALIC,fontStyle:"italic",fill:"#111"}),
  ser(fig28Points,fig28Base,{stroke:BLUE,strokeWidth:2.7,clip:true}),
]);
// ---- Figure 29
place({l:231,r:933,t:1175,b:1555},[2000,2013.03],[-3,3],[
  ...axes(fig29XTicks,fig29YTicks,fig29YTicks,{fs:32,fmtY:d=>String(d),padL:23,padR:23,padX:31,tickSizeX:0}),
  Plot.ruleY([0],{stroke:GREY,strokeWidth:3}),
  Plot.ruleX(fig29XTicks.slice(1),{x:d=>d,y1:0,y2:-.1,stroke:GREY,strokeWidth:2}),
  notes([{x:2000.48,y:2.55,t:"Euphoria"},{x:2004.22,y:-1.94,t:"Panic"}],{fontSize:31.5,fill:"#111"}),
  notes([{x:2005.86,y:3.12,t:"Commodities Risk-Love"},{x:2005.86,y:2.42,t:"(S.D.)"}],{fontSize:33.5,fill:"#111"}),
  seg([{y:3.14,x1:2004.44,x2:2005.72}],{stroke:BLUE,strokeWidth:2.7}),
  Plot.arrow([{a:2000.24,b:1.55,c:3.66},{a:2004.02,b:-.99,c:-3.09}],{x1:"a",x2:"a",y1:"b",y2:"c",stroke:BLUE,strokeWidth:2,headLength:18,headAngle:60,bend:0}),
  ser(fig29Points,fig29Base,{stroke:BLUE,strokeWidth:2.7}),
  Plot.dot([{x:2012.72,y:.16}],{x:"x",y:"y",r:24,stroke:"#e0202a",strokeWidth:2.5,fill:"none"}),
]);
// ---- Figure 30
place({l:1145,r:1799,t:1134,b:1540},[2000,2013.08],[-2,2],[
  ...axes(fig30XTicks,fig30YTicksL,fig30YTicksR,{fs:32.5,fmtY:d=>d.toFixed(1),padL:22,padR:23,padX:32,tickSizeX:0}),
  Plot.ruleY([0],{stroke:GREY,strokeWidth:3,insetLeft:-10,insetRight:-10}),
  Plot.ruleX(fig30XTicks.slice(1),{x:d=>d,y1:0,y2:-.07,stroke:GREY,strokeWidth:2}),
  notes([{x:2009.43,y:1.13,t:"Euphoria"},{x:2004.06,y:-1.37,t:"Panic"}],{fontSize:31,fill:"#111"}),
  notes([{x:2003.69,y:1.83,t:"Energy Risk-Love (S.D.)"}],{fontSize:33.8,fill:"#111"}),
  seg([{y:1.83,x1:2002.2,x2:2003.55}],{stroke:BLUE,strokeWidth:2.7}),
  Plot.arrow([{a:2009.15,b:.49,c:1.77},{a:2003.98,b:-.555,c:-1.845}],{x1:"a",x2:"a",y1:"b",y2:"c",stroke:BLUE,strokeWidth:2,headLength:18,headAngle:60,bend:0}),
  ser(fig30Points,fig30Base,{stroke:BLUE,strokeWidth:2.7,clip:true}),
  Plot.dot([{x:2012.74,y:.64}],{x:"x",y:"y",r:24,stroke:"#e0202a",strokeWidth:2.5,fill:"none"}),
]);
// ---- Figure 31
place({l:269,r:879,t:1838,b:2215},[1999,2012.87],[0,1.6],[
  ...axes(fig31XTicks,fig31YTicks,fig31YTicks,{fs:28,colL:"#111",colR:"#111",sw:2.5,tL:7,fmtY:d=>d.toFixed(1)+"%",padL:18,padR:19,padX:16,tX:9,dxX:3}),
  Plot.ruleY([0],{stroke:"#111",strokeWidth:2.5}),
  ser(fig31Japan,fig31Base,{stroke:"#a6a6a6",strokeWidth:5.5}),
  ser(fig31Europe,fig31Base,{stroke:"#111",strokeWidth:2.4,strokeDasharray:"7,3"}),
  ser(fig31US,fig31Base,{stroke:"#103f70",strokeWidth:2.2}),
  seg([{y:.083,x1:1999.98,x2:2002}],{stroke:"#103f70",strokeWidth:2.2}),
  seg([{y:.083,x1:2003.46,x2:2005.52}],{stroke:"#a6a6a6",strokeWidth:5.5}),
  seg([{y:.083,x1:2007.82,x2:2009.79}],{stroke:"#111",strokeWidth:2.4,strokeDasharray:"7,3"}),
  notes([{x:1999.32,y:1.524,t:"6m total IPOs & addl offerings as of Sep 2012:"}],{fontSize:26.5,fill:"#111"}),
  notes([{x:1999.35,y:1.37,t:"US=U$128.8bn, EU=U$23.5bn, JP=U$15.5bn"}],{fontSize:28,fill:"#111"}),
  notes([{x:2002.26,y:.083,t:"US"},{x:2005.74,y:.083,t:"Japan"},{x:2010.06,y:.083,t:"Europe"}],{fontSize:27,fill:"#111"}),
]);
// ---- Figure 32
place({l:1147,r:1795,t:1843,b:2215},[1981,2013.78],[-1.5,2.5],[
  ...axes(fig32XTicks,fig32YTicks,fig32YTicks,{fs:27,colL:"#111",colR:"#111",sw:2.5,tR:9,fmtY:d=>d.toFixed(1),padL:17,padR:17,padX:26,tickSizeX:0}),
  notes([{x:1981.51,y:2.46,t:"S.D."},{x:2010.66,y:2.46,t:"S.D."},{x:1990.8,y:1.87,t:"Easy Monetary/Fiscal Policy"}],{fontSize:27,fill:NAVY}),
  notes([{x:1994.78,y:-.98,t:"Tight Monetary/Fiscal Policy"}],{fontSize:26.7,fill:NAVY}),
  ser(fig32Europe,fig32Base,{stroke:"#808080",strokeWidth:2.5,strokeDasharray:"5,3",clip:true}),
  ser(fig32US,fig32Base,{stroke:NAVY,strokeWidth:2.2,clip:true}),
  ser(fig32Japan,fig32Base,{stroke:"#111",strokeWidth:2.4,clip:true}),
  Plot.ruleY([0],{stroke:"#111",strokeWidth:3,insetLeft:-10}),
  Plot.ruleX(fig32XTicks.slice(1,-1),{x:d=>d,y1:0,y2:-.1,stroke:"#111",strokeWidth:2}),
  Plot.ruleX([{x:1989.92,a:1.57,b:2.14},{x:1993.95,a:-.63,b:-1.17}],{x:"x",y1:"a",y2:"b",stroke:"#111",strokeWidth:2.5}),
  Plot.dot([{x:1989.92,y:2.14}],{x:"x",y:"y",symbol:"triangle",r:10,fill:"#000"}),
  Plot.dot([{x:1993.95,y:-1.17}],{x:"x",y:"y",symbol:"triangle",r:10,fill:"#000",rotate:180}),
  seg([{y:-1.47,x1:1983.19,x2:1987.59}],{stroke:"#808080",strokeWidth:2.5,strokeDasharray:"5,3"}),
  seg([{y:-1.47,x1:1994.6,x2:1999.1}],{stroke:NAVY,strokeWidth:2.2}),
  seg([{y:-1.47,x1:2003.5,x2:2007.85}],{stroke:"#111",strokeWidth:2.4}),
  notes([{x:1988.22,y:-1.47,t:"Europe"},{x:1999.69,y:-1.47,t:"US"},{x:2008.41,y:-1.47,t:"Japan"}],{fontSize:27,fill:"#111"}),
]);
</script></body></html>
